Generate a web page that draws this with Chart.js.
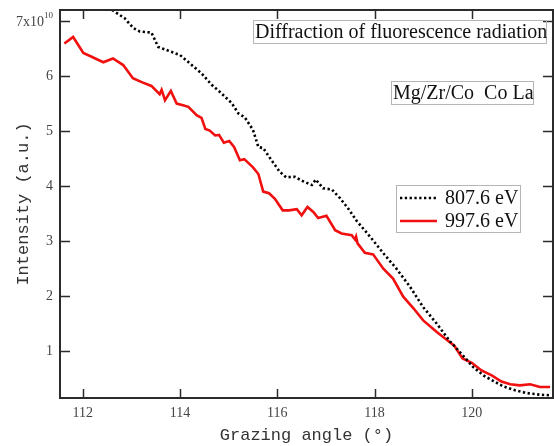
<!DOCTYPE html>
<html>
<head>
<meta charset="utf-8">
<script src="https://cdn.jsdelivr.net/npm/chart.js"></script>
<style>
  html, body { margin: 0; padding: 0; background: #fff; }
  #wrap { width: 554px; height: 446px; }
</style>
</head>
<body>
<div id="wrap"><canvas id="fluoChart" width="554" height="446"></canvas></div>
<script>
// intensity in units of 1e10, angle in degrees
const angle997 = [111.62, 111.80, 112.01, 112.18, 112.42, 112.62, 112.83, 113.03, 113.21, 113.41,
  113.58, 113.62, 113.69, 113.81, 113.93, 114.06, 114.17, 114.34, 114.44, 114.52,
  114.61, 114.72, 114.80, 114.90, 115.01, 115.11, 115.23, 115.32, 115.50, 115.61,
  115.71, 115.83, 115.95, 116.11, 116.24, 116.40, 116.50, 116.62, 116.74, 116.84,
  117.01, 117.19, 117.32, 117.53, 117.60, 117.62, 117.65, 117.80, 117.97, 118.18,
  118.38, 118.59, 118.80, 119.00, 119.28, 119.45, 119.64, 119.81, 120.00, 120.20,
  120.41, 120.61, 120.79, 120.99, 121.20, 121.40, 121.61];
const intensity997 = [6.59, 6.71, 6.42, 6.35, 6.25, 6.32, 6.20, 5.96, 5.89, 5.82,
  5.67, 5.75, 5.56, 5.73, 5.50, 5.47, 5.44, 5.29, 5.24, 5.04,
  5.01, 4.92, 4.93, 4.79, 4.82, 4.71, 4.47, 4.49, 4.34, 4.22,
  3.90, 3.87, 3.77, 3.56, 3.56, 3.58, 3.47, 3.62, 3.53, 3.42,
  3.46, 3.20, 3.14, 3.11, 3.03, 3.08, 2.96, 2.79, 2.76, 2.50,
  2.32, 1.99, 1.78, 1.56, 1.35, 1.23, 1.10, 0.87, 0.79, 0.65,
  0.56, 0.45, 0.40, 0.38, 0.40, 0.35, 0.35];

const angle807 = [112.60, 112.86, 113.04, 113.17, 113.41, 113.55, 113.79, 114.00, 114.20, 114.44,
  114.65, 114.82, 115.06, 115.20, 115.33, 115.50, 115.61, 115.71, 115.88, 116.05,
  116.18, 116.36, 116.50, 116.71, 116.79, 116.94, 117.12, 117.29, 117.46, 117.63,
  117.91, 118.18, 118.45, 118.73, 119.00, 119.28, 119.55, 119.79, 120.03, 120.24,
  120.44, 120.65, 120.89, 121.13, 121.40, 121.61];
const intensity807 = [7.20, 7.05, 6.87, 6.81, 6.79, 6.53, 6.45, 6.38, 6.23, 6.05,
  5.84, 5.71, 5.51, 5.32, 5.25, 5.02, 4.71, 4.69, 4.47, 4.26,
  4.16, 4.17, 4.10, 4.02, 4.12, 3.96, 3.94, 3.78, 3.59, 3.37,
  3.08, 2.78, 2.50, 2.17, 1.80, 1.50, 1.18, 0.95, 0.71, 0.56,
  0.46, 0.36, 0.29, 0.24, 0.21, 0.20];

const xTicks = [112, 114, 116, 118, 120];
const yTicks = [1, 2, 3, 4, 5, 6, 7];
const seriesLabels = ["807.6 eV", "997.6 eV"];
const notes = ["Diffraction of fluorescence radiation", "Mg/Zr/Co  Co La"];

const toPoints = (xs, ys) => xs.map((x, i) => ({ x: x, y: ys[i] }));

const axisColor = "#2b2b2b";
const labelColor = "#444";
const tickFamily = "'Liberation Serif', serif";
const titleFont = "17px 'Liberation Mono', monospace";

// frame, inward ticks, titles, text boxes and legend
const decorPlugin = {
  id: "decor",
  afterDraw(chart) {
    const ctx = chart.ctx;
    const a = chart.chartArea;
    const xs = chart.scales.x;
    const ys = chart.scales.y;
    ctx.save();

    ctx.strokeStyle = axisColor;
    ctx.lineWidth = 2;
    ctx.strokeRect(a.left, a.top, a.right - a.left, a.bottom - a.top);

    ctx.lineWidth = 1.5;
    xTicks.forEach(v => {
      const px = Math.round(xs.getPixelForValue(v)) + 0.5;
      ctx.beginPath();
      ctx.moveTo(px, a.bottom); ctx.lineTo(px, a.bottom - 9);
      ctx.moveTo(px, a.top); ctx.lineTo(px, a.top + 9);
      ctx.stroke();
    });
    yTicks.forEach(v => {
      const py = Math.round(ys.getPixelForValue(v)) + 0.5;
      ctx.beginPath();
      ctx.moveTo(a.left, py); ctx.lineTo(a.left + 10, py);
      ctx.moveTo(a.right, py); ctx.lineTo(a.right - 10, py);
      ctx.stroke();
    });

    // 7x10^10 label
    const y7 = ys.getPixelForValue(7);
    ctx.fillStyle = labelColor;
    ctx.textBaseline = "middle";
    ctx.textAlign = "right";
    ctx.font = "9px " + tickFamily;
    ctx.fillText("10", 53, y7 - 5);
    const supW = ctx.measureText("10").width;
    ctx.font = "14px " + tickFamily;
    ctx.fillText("7x10", 53 - supW, y7 + 1);

    // axis titles
    ctx.font = titleFont;
    ctx.fillStyle = "#333";
    ctx.textAlign = "center";
    ctx.fillText("Grazing angle (°)", (a.left + a.right) / 2, 435);
    ctx.save();
    ctx.translate(23, (a.top + a.bottom) / 2);
    ctx.rotate(-Math.PI / 2);
    ctx.fillText("Intensity (a.u.)", 0, 0);
    ctx.restore();

    // note boxes
    ctx.font = "20px 'Liberation Serif', serif";
    ctx.fillStyle = "#111";
    ctx.strokeStyle = "#b5b5b5";
    ctx.lineWidth = 1;
    ctx.textAlign = "left";
    ctx.strokeRect(253.5, 20.5, 293, 23);
    ctx.fillText(notes[0], 255, 32.5);
    ctx.strokeRect(391.5, 81.5, 142, 23);
    ctx.fillText(notes[1], 393, 93.5);

    // legend
    ctx.strokeRect(396.5, 185.5, 124, 47);
    const rows = [198, 221];
    chart.data.datasets.forEach((ds, i) => {
      ctx.save();
      ctx.strokeStyle = ds.borderColor;
      ctx.lineWidth = ds.borderWidth;
      ctx.setLineDash(ds.borderDash || []);
      ctx.lineCap = "butt";
      ctx.beginPath();
      ctx.moveTo(400, rows[i]);
      ctx.lineTo(437, rows[i]);
      ctx.stroke();
      ctx.restore();
      ctx.font = "20px 'Liberation Serif', serif";
      ctx.fillStyle = "#111";
      ctx.fillText(ds.label, 445, rows[i] + 1);
    });

    ctx.restore();
  }
};

new Chart(document.getElementById("fluoChart"), {
  type: "line",
  data: {
    datasets: [
      {
        label: seriesLabels[0],
        data: toPoints(angle807, intensity807),
        borderColor: "#000000",
        borderWidth: 2.6,
        borderDash: [2.3, 2.5],
        borderCapStyle: "butt",
        pointRadius: 0,
        tension: 0,
        fill: false
      },
      {
        label: seriesLabels[1],
        data: toPoints(angle997, intensity997),
        borderColor: "#f01010",
        borderWidth: 2.6,
        pointRadius: 0,
        tension: 0,
        fill: false
      }
    ]
  },
  options: {
    responsive: false,
    animation: false,
    devicePixelRatio: 1,
    layout: { padding: { left: 0, right: 1, top: 10, bottom: 0 } },
    plugins: {
      legend: { display: false },
      tooltip: { enabled: false }
    },
    scales: {
      x: {
        type: "linear",
        min: 111.53,
        max: 121.67,
        afterBuildTicks: scale => { scale.ticks = xTicks.map(v => ({ value: v })); },
        afterFit: scale => {
          scale.height = 48;
          scale.paddingLeft = 0;
          scale.paddingRight = 0;
        },
        grid: { display: false, drawTicks: false },
        border: { display: false },
        ticks: {
          padding: 7,
          color: labelColor,
          font: { family: tickFamily, size: 14 },
          maxRotation: 0
        }
      },
      y: {
        type: "linear",
        min: 0.15,
        max: 7.2,
        afterBuildTicks: scale => { scale.ticks = yTicks.map(v => ({ value: v })); },
        afterFit: scale => {
          scale.width = 60;
          scale.paddingTop = 0;
          scale.paddingBottom = 0;
        },
        grid: { display: false, drawTicks: false },
        border: { display: false },
        ticks: {
          padding: 7,
          color: labelColor,
          font: { family: tickFamily, size: 14 },
          callback: v => (v === 7 ? "" : String(v))
        }
      }
    }
  },
  plugins: [decorPlugin]
});
</script>
</body>
</html>
